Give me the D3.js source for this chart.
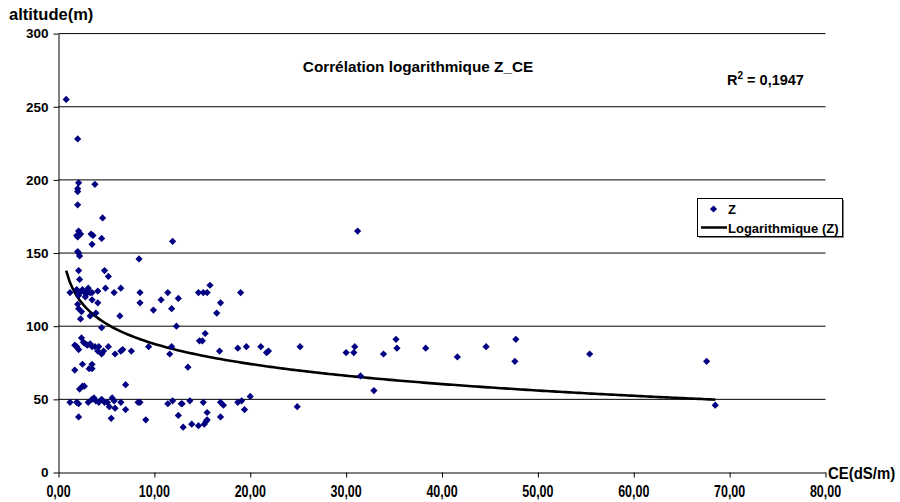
<!DOCTYPE html>
<html>
<head>
<meta charset="utf-8">
<script src="https://cdn.jsdelivr.net/npm/d3@7"></script>
<style>
  body { margin: 0; background: #fff; }
  text { font-family: "Liberation Sans", Arial, sans-serif; font-weight: bold; fill: #000; }
</style>
</head>
<body>
<svg width="900" height="502"></svg>
<script>
// CE (dS/m) and altitude Z (m)
var ceValues = [0.8, 2.0, 2.1, 3.8, 2.0, 2.0, 2.0, 4.6, 2.1, 2.0, 1.9, 2.3, 3.4, 3.6, 4.5, 3.5, 11.9, 2.0, 2.1, 2.2,
  8.4, 2.1, 4.8, 5.2, 2.2, 1.9, 2.0, 2.2, 2.5, 2.7, 2.9, 3.1, 3.3, 2.1, 2.8, 3.1, 3.5, 1.2, 4.1, 4.9,
  5.8, 6.5, 8.5, 11.4, 12.5, 14.6, 8.5, 10.7, 9.9, 11.8, 3.5, 4.1, 2.0, 2.1, 2.4, 3.9, 3.3, 2.3, 6.4, 4.5,
  12.3, 15.8, 15.1, 15.5, 19.0, 16.9, 16.5, 15.3, 15.0, 16.8, 18.7, 19.6, 21.1, 21.7, 21.9, 25.2, 13.5, 12.9, 13.7, 15.1,
  16.9, 17.2, 18.7, 19.1, 20.0, 19.4, 24.9, 15.5, 15.5, 16.9, 12.5, 13.0, 13.9, 14.6, 15.2, 15.4, 9.4, 11.8, 11.6, 8.5,
  9.1, 11.4, 11.9, 12.8, 1.7, 1.9, 2.1, 2.4, 2.6, 2.8, 3.0, 3.3, 3.5, 3.8, 4.1, 4.2, 4.5, 4.7, 5.2, 5.9,
  6.5, 6.7, 7.6, 14.7, 1.7, 2.5, 3.2, 3.5, 3.5, 7.0, 2.2, 2.5, 2.7, 1.2, 1.9, 2.1, 3.1, 3.5, 3.7, 3.9,
  4.2, 4.5, 4.8, 5.1, 5.3, 5.6, 5.8, 5.9, 6.5, 7.0, 8.3, 2.1, 5.5, 31.2, 30.0, 30.8, 30.9, 31.5, 32.9, 33.9,
  35.2, 35.3, 38.3, 41.6, 44.6, 47.7, 47.6, 55.4, 67.6, 68.5]
var zValues = [255, 228, 198, 197, 194, 192, 183, 174, 165, 161, 162, 163, 163, 162, 160, 156, 158, 151, 150, 148,
  146, 138, 138, 134, 132, 125, 124, 123, 125, 123, 122, 124, 123, 121, 120, 126, 123, 123, 124, 126,
  123, 126, 123, 123, 119, 123, 116, 118, 111, 112, 118, 116, 115, 112, 110, 109, 107, 105, 107, 99,
  100, 128, 123, 123, 123, 116, 109, 95, 90, 83, 85, 86, 86, 82, 83, 86, 72, 47, 49, 48,
  48, 46, 48, 49, 52, 43, 45, 41, 36, 38, 39, 31, 33, 32, 33, 35, 86, 86, 81, 48,
  36, 47, 49, 47, 87, 86, 84, 92, 89, 88, 87, 88, 86, 86, 83, 86, 81, 83, 86, 81,
  83, 84, 83, 90, 70, 74, 71, 71, 74, 60, 57, 59, 59, 48, 48, 47, 48, 50, 51, 49,
  48, 50, 48, 48, 45, 51, 49, 44, 48, 43, 48, 38, 37, 165, 82, 82, 86, 66, 56, 81,
  91, 85, 85, 79, 86, 91, 76, 81, 76, 46]

var xTicks = [0, 10, 20, 30, 40, 50, 60, 70, 80]
var yTicks = [0, 50, 100, 150, 200, 250, 300]

// logarithmic trend y = a ln(x) + b
var trendA = -19.8
var trendB = 133.5
var r2Text = "0,1947"

var svg = d3.select('svg')
svg.append('rect').attr('width', 900).attr('height', 502).attr('fill', '#fff')

var x = d3.scaleLinear().domain([0, 80]).range([58.5, 825.5])
var y = d3.scaleLinear().domain([0, 300]).range([472.5, 33.6])

// gridlines
svg.append('g')
  .selectAll('line')
  .data(yTicks.filter(d => d > 0))
  .enter()
  .append('line')
    .attr('x1', x(0)).attr('x2', x(80))
    .attr('y1', d => y(d)).attr('y2', d => y(d))
    .attr('stroke', '#000')
    .attr('stroke-width', 1)

// y axis
var yAxis = svg.append('g')
  .attr('transform', `translate(${x(0)},0)`)
  .call(d3.axisLeft(y).tickValues(yTicks).tickSize(5).tickSizeOuter(0).tickPadding(5))
yAxis.select('.domain').attr('stroke', '#000')
yAxis.selectAll('text').attr('font-size', 13.5).attr('font-family', null).attr('font-weight', 'bold')

// x axis, labels drawn narrow and tall like the original
var xAxis = svg.append('g')
  .attr('transform', `translate(0,${y(0)})`)
  .call(d3.axisBottom(x).tickValues(xTicks).tickSize(5).tickSizeOuter(0).tickFormat(''))
xAxis.select('.domain').attr('stroke', '#000')

svg.append('g')
  .selectAll('text')
  .data(xTicks)
  .enter()
  .append('text')
    .attr('transform', d => `translate(${x(d)},497) scale(0.78,1)`)
    .attr('text-anchor', 'middle')
    .attr('font-size', 16)
    .text(d => d3.format('.2f')(d).replace('.', ','))

// axis titles
svg.append('text').attr('x', 9).attr('y', 20).attr('font-size', 16.5).text('altitude(m)')
svg.append('text').attr('transform', 'translate(828,479) scale(0.88,1)').attr('font-size', 17)
  .text('CE(dS/m)')

// title and R2
svg.append('text').attr('x', 418).attr('y', 72).attr('text-anchor', 'middle').attr('font-size', 15.3)
  .text('Corrélation logarithmique Z_CE')
var r2 = svg.append('text').attr('x', 727).attr('y', 85).attr('font-size', 14.5)
r2.append('tspan').text('R')
r2.append('tspan').attr('dy', -6).attr('font-size', 10).text('2')
r2.append('tspan').attr('dy', 6).text(' = ' + r2Text)

// trendline
var xMin = d3.min(ceValues), xMax = d3.max(ceValues)
var trendPts = d3.range(0, 201).map(i => xMin + (xMax - xMin) * i / 200)
svg.append('path')
  .datum(trendPts)
  .attr('fill', 'none')
  .attr('stroke', '#000')
  .attr('stroke-width', 2.6)
  .attr('d', d3.line().x(d => x(d)).y(d => y(trendA * Math.log(d) + trendB)))

// points
var diamond = d3.symbol().type(d3.symbolSquare).size(26)
svg.append('g')
  .selectAll('path')
  .data(ceValues.map((c, i) => [c, zValues[i]]))
  .enter()
  .append('path')
    .attr('d', diamond)
    .attr('transform', d => `translate(${x(d[0])},${y(d[1])}) rotate(45)`)
    .attr('fill', '#000080')

// legend
var lg = svg.append('g')
lg.append('rect').attr('x', 699).attr('y', 200).attr('width', 145).attr('height', 38).attr('fill', '#808080')
lg.append('rect').attr('x', 697.5).attr('y', 198.5).attr('width', 145).attr('height', 38)
  .attr('fill', '#fff').attr('stroke', '#000').attr('stroke-width', 1)
lg.append('path').attr('d', diamond).attr('transform', 'translate(713.5,209) rotate(45)').attr('fill', '#000080')
lg.append('text').attr('x', 728).attr('y', 214).attr('font-size', 13).text('Z')
lg.append('line').attr('x1', 701).attr('x2', 727).attr('y1', 227.5).attr('y2', 227.5)
  .attr('stroke', '#000').attr('stroke-width', 2.5)
lg.append('text').attr('x', 728).attr('y', 232.5).attr('font-size', 13).text('Logarithmique (Z)')
</script>
</body>
</html>
